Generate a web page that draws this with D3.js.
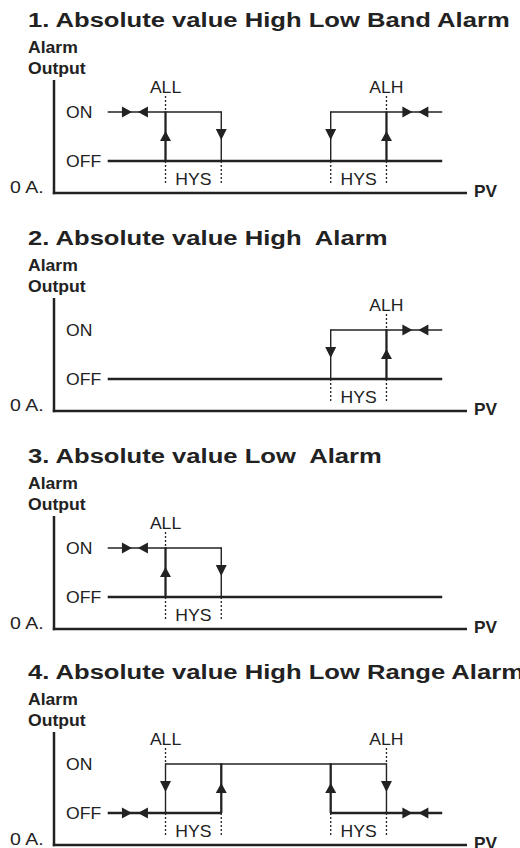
<!DOCTYPE html>
<html>
<head>
<meta charset="utf-8">
<script src="https://cdn.jsdelivr.net/npm/d3@7"></script>
<style>
  html, body { margin: 0; padding: 0; background: #fff; }
  svg { display: block; }
</style>
</head>
<body>
<svg id="chart" width="520" height="848"></svg>
<script>
// ---------- DATA ----------
const titles = [
  "1. Absolute value High Low Band Alarm",
  "2. Absolute value High  Alarm",
  "3. Absolute value Low  Alarm",
  "4. Absolute value High Low Range Alarm"
];
const yAxisLabel = ["Alarm", "Output"];
const xAxisLabel = "PV";
const levelNames = ["0 A.", "OFF", "ON"];
const levelValues = [0, 32, 81];
const setpointNames = ["ALL", "ALH"];
const setpointValues = [27, 80.5];
const hysLabel = "HYS";
const hysWidth = 13.5;
const lineStart = 13, lineEnd = 94;

const panelSetpoints = [["ALL", "ALH"], ["ALH"], ["ALL"], ["ALL", "ALH"]];
const onSegments  = [[[13, 40.5], [67, 94]], [[67, 94]], [[13, 40.5]], [[27, 80.5]]];
const offSegments = [[[13, 94]], [[13, 94]], [[13, 94]], [[13, 40.5], [67, 94]]];
const risingEdges  = [[27, 80.5], [80.5], [27], [40.5, 67]];
const fallingEdges = [[40.5, 67], [67], [40.5], [27, 80.5]];
const hysBands = [[[27, 40.5], [67, 80.5]], [[67, 80.5]], [[27, 40.5]], [[27, 40.5], [67, 80.5]]];
const pairLevel = ["ON", "ON", "ON", "OFF"];
const pairX = [[19.6, 87.5], [87.5], [19.6], [19.6, 87.5]];

// ---------- LAYOUT ----------
const svg = d3.select("#chart");
const ink = "#222";
const axisYs = [193, 411, 629, 845];
const x = d3.scaleLinear().domain([0, 100]).range([54, 467]);
const font = "'Liberation Sans', Arial, sans-serif";

function label(g, txt, px, py, size, weight, sx, anchor) {
  g.append("text")
    .attr("transform", `translate(${px},${py}) scale(${sx},1)`)
    .attr("text-anchor", anchor || "start")
    .style("white-space", "pre")
    .attr("font-family", font)
    .attr("font-size", size)
    .attr("font-weight", weight)
    .attr("fill", ink)
    .text(txt);
}

const levelOf = name => levelValues[levelNames.indexOf(name)];

titles.forEach((title, i) => {
  const base = axisYs[i];
  const y = d3.scaleLinear().domain([0, 113]).range([base, base - 113]);
  const g = svg.append("g");
  const yON = y(levelOf("ON")), yOFF = y(levelOf("OFF"));

  // titles
  label(g, title, 28, base - 166, 20, "bold", 1.28);
  label(g, yAxisLabel[0], 28, base - 140, 16, "bold", 1.1);
  label(g, yAxisLabel[1], 28, base - 119, 16, "bold", 1.1);

  // axes
  g.append("line").attr("x1", x(0)).attr("x2", x(0))
    .attr("y1", y(113)).attr("y2", y(0) + 1.2)
    .attr("stroke", ink).attr("stroke-width", 2.5);
  const xAxis = d3.axisBottom(x).ticks(0).tickSizeOuter(0);
  const ax = g.append("g").attr("transform", `translate(0,${y(0)})`).call(xAxis);
  ax.select(".domain").attr("stroke", ink).attr("stroke-width", 2.5)
    .attr("d", `M${x(0) - 1.2},0H${x(100)}`);
  label(g, xAxisLabel, 474, base + 4, 16, "bold", 1.08);

  // level labels
  label(g, levelNames[0], 10, base, 17, "normal", 1.15);
  label(g, levelNames[1], 66, yOFF + 5.5, 16, "normal", 1.1);
  label(g, levelNames[2], 66, yON + 5.5, 16, "normal", 1.1);

  // dotted guides below OFF at hysteresis edges
  hysBands[i].forEach(b => {
    b.forEach(v => {
      g.append("line").attr("x1", x(v)).attr("x2", x(v))
        .attr("y1", yOFF).attr("y2", base - 8)
        .attr("stroke", ink).attr("stroke-width", 1.3).attr("stroke-dasharray", "2,2");
    });
    label(g, hysLabel, (x(b[0]) + x(b[1])) / 2, base - 8, 16, "normal", 1.1, "middle");
  });

  // setpoint labels and dotted guides above ON
  panelSetpoints[i].forEach(name => {
    const v = setpointValues[setpointNames.indexOf(name)];
    label(g, name, x(v), yON - 19, 16, "normal", 1.1, "middle");
    g.append("line").attr("x1", x(v)).attr("x2", x(v))
      .attr("y1", yON - 16).attr("y2", yON)
      .attr("stroke", ink).attr("stroke-width", 1.3).attr("stroke-dasharray", "2,2");
  });

  // ON (thin) and OFF (thick) segments
  onSegments[i].forEach(s => {
    g.append("line").attr("x1", x(s[0])).attr("x2", x(s[1]))
      .attr("y1", yON).attr("y2", yON)
      .attr("stroke", ink).attr("stroke-width", 1.4);
  });
  offSegments[i].forEach(s => {
    g.append("line").attr("x1", x(s[0])).attr("x2", x(s[1]))
      .attr("y1", yOFF).attr("y2", yOFF)
      .attr("stroke", ink).attr("stroke-width", 2.3);
  });

  // rising edges (thick, up arrow)
  risingEdges[i].forEach(v => {
    const px = x(v);
    g.append("line").attr("x1", px).attr("x2", px)
      .attr("y1", yOFF).attr("y2", yON - 0.7)
      .attr("stroke", ink).attr("stroke-width", 2.3);
    g.append("path")
      .attr("d", `M${px},${yON + 19}L${px - 5.5},${yON + 29}L${px + 5.5},${yON + 29}Z`)
      .attr("fill", ink);
  });
  // falling edges (thin, down arrow)
  fallingEdges[i].forEach(v => {
    const px = x(v);
    g.append("line").attr("x1", px).attr("x2", px)
      .attr("y1", yON - 0.7).attr("y2", yOFF)
      .attr("stroke", ink).attr("stroke-width", 1.4);
    g.append("path")
      .attr("d", `M${px - 5.5},${yON + 17}L${px + 5.5},${yON + 17}L${px},${yON + 28}Z`)
      .attr("fill", ink);
  });

  // converging arrow pairs
  pairX[i].forEach(v => {
    const cx = x(v), cy = y(levelOf(pairLevel[i]));
    g.append("path")
      .attr("d", `M${cx - 3},${cy}L${cx - 13},${cy - 5.5}L${cx - 13},${cy + 5.5}Z`)
      .attr("fill", ink);
    g.append("path")
      .attr("d", `M${cx + 3},${cy}L${cx + 13},${cy - 5.5}L${cx + 13},${cy + 5.5}Z`)
      .attr("fill", ink);
  });
});
</script>
</body>
</html>
